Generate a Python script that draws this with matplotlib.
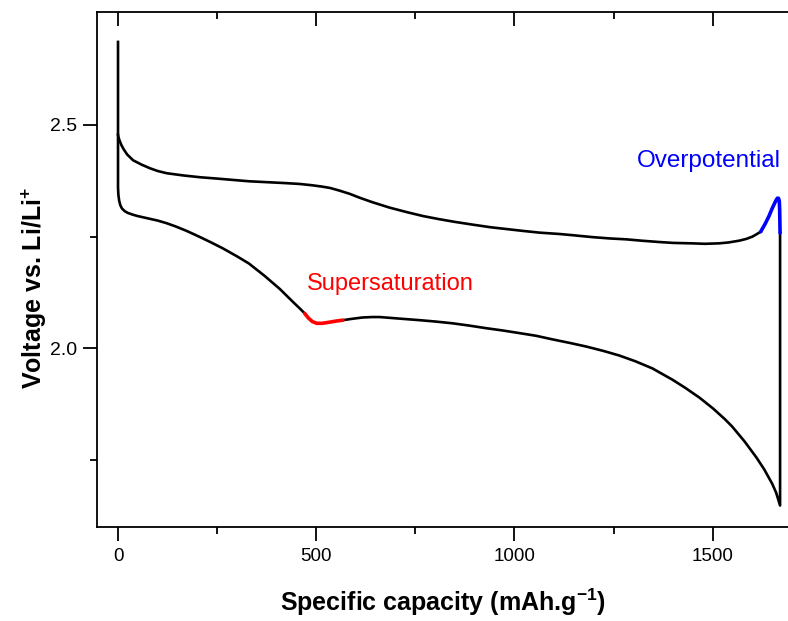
import matplotlib
matplotlib.use("Agg")
import matplotlib.pyplot as plt
from matplotlib.ticker import MultipleLocator, FixedLocator, FormatStrFormatter

# discharge branch (capacity mAh/g, voltage V)
dis_cap = [0, 0, 1, 3, 6, 10, 17, 25, 38, 50, 65, 80, 100, 123, 145, 170, 190,
           207, 235, 264, 300, 330, 370, 408, 440, 460, 471]
dis_v = [2.686, 2.36, 2.343, 2.330, 2.320, 2.313, 2.307, 2.303, 2.299, 2.296,
         2.293, 2.290, 2.286, 2.280, 2.273, 2.264, 2.256, 2.249, 2.237, 2.224,
         2.206, 2.190, 2.162, 2.133, 2.105, 2.088, 2.078]

# supersaturation dip (red)
sup_cap = [471, 480, 490, 501, 515, 530, 550, 567]
sup_v = [2.078, 2.068, 2.060, 2.056, 2.056, 2.058, 2.061, 2.063]

dis2_cap = [567, 590, 617, 640, 660, 703, 761, 800, 844, 885, 929, 970, 1013,
            1055, 1096, 1140, 1181, 1225, 1264, 1305, 1348, 1398, 1430, 1466,
            1500, 1530, 1549, 1580, 1610, 1630, 1650, 1660, 1670, 1670]
dis2_v = [2.063, 2.066, 2.069, 2.070, 2.070, 2.067, 2.063, 2.060, 2.056, 2.051,
          2.045, 2.040, 2.034, 2.028, 2.020, 2.012, 2.004, 1.994, 1.984, 1.971,
          1.955, 1.930, 1.912, 1.890, 1.866, 1.842, 1.825, 1.792, 1.756, 1.729,
          1.697, 1.677, 1.648, 2.258]

# overpotential peak (blue)
ovp_cap = [1670, 1669, 1668, 1666, 1663, 1659, 1650, 1642, 1632, 1621]
ovp_v = [2.258, 2.310, 2.330, 2.336, 2.336, 2.330, 2.313, 2.296, 2.278, 2.261]

# charge branch, right to left
chg_cap = [1621, 1610, 1600, 1585, 1567, 1540, 1516, 1480, 1448, 1400, 1365,
           1320, 1282, 1240, 1196, 1150, 1113, 1063, 1020, 980, 940, 894, 850,
           811, 770, 728, 685, 642, 610, 584, 559, 535, 515, 490, 458, 420,
           375, 330, 290, 250, 207, 165, 123, 100, 81, 60, 38, 23, 14, 8, 4,
           1, 0]
chg_v = [2.261, 2.255, 2.250, 2.245, 2.241, 2.237, 2.235, 2.234, 2.235, 2.236,
         2.238, 2.241, 2.244, 2.246, 2.249, 2.253, 2.256, 2.259, 2.263, 2.267,
         2.271, 2.277, 2.283, 2.289, 2.296, 2.305, 2.315, 2.327, 2.337, 2.346,
         2.353, 2.359, 2.362, 2.365, 2.368, 2.370, 2.372, 2.374, 2.377, 2.380,
         2.383, 2.387, 2.392, 2.397, 2.403, 2.411, 2.421, 2.434, 2.446, 2.456,
         2.465, 2.473, 2.478]

plt.rcParams['font.family'] = ['Liberation Sans', 'DejaVu Sans']
plt.rcParams['mathtext.fontset'] = 'custom'
plt.rcParams['mathtext.rm'] = 'Liberation Sans'
plt.rcParams['mathtext.bf'] = 'Liberation Sans:bold'

fig = plt.figure(figsize=(7.88, 6.21), dpi=100)
ax = fig.add_axes([0.1231, 0.1514, 0.8769, 0.8293])

lw = 1.9
for xs, ys in [(dis_cap, dis_v), (dis2_cap, dis2_v), (chg_cap, chg_v)]:
    ax.plot(xs, ys, color='black', lw=lw, solid_joinstyle='round')
ax.plot(sup_cap, sup_v, color='red', lw=2.6, solid_capstyle='round')
ax.plot(ovp_cap, ovp_v, color='blue', lw=2.6, solid_capstyle='round')

ax.text(476, 2.143, 'Supersaturation', color='red', fontsize=17,
        ha='left', va='center')
ax.text(1672, 2.42, 'Overpotential', color='blue', fontsize=17.5,
        ha='right', va='center')

xlim = (-53, 1690)
ax.set_xlim(xlim)
ax.set_ylim(1.6, 2.753)

ax.xaxis.set_major_locator(MultipleLocator(500))
ax.xaxis.set_minor_locator(MultipleLocator(250))
ax.yaxis.set_major_locator(FixedLocator([2.0, 2.5]))
ax.yaxis.set_minor_locator(FixedLocator([1.75, 2.25]))
ax.yaxis.set_major_formatter(FormatStrFormatter('%.1f'))

ax.spines['right'].set_visible(False)
ax.spines['top'].set_visible(False)
for s in ['left', 'bottom']:
    ax.spines[s].set_linewidth(1.3)

ax.tick_params(axis='x', which='both', direction='out', bottom=True, top=False,
               width=1.3, labelsize=13.5, pad=5)
ax.tick_params(axis='y', which='both', direction='out', left=True, right=False,
               width=1.3, labelsize=14, pad=4)
ax.tick_params(which='major', length=10)
ax.tick_params(which='minor', length=5)

# inward ticks along the top spine
ax2 = ax.twiny()
ax2.set_xlim(xlim)
ax2.xaxis.set_major_locator(MultipleLocator(500))
ax2.xaxis.set_minor_locator(MultipleLocator(250))
ax2.tick_params(which='both', direction='in', width=1.3, labeltop=False)
ax2.tick_params(which='major', length=10)
ax2.tick_params(which='minor', length=5)
for s in ['left', 'right', 'bottom']:
    ax2.spines[s].set_visible(False)
ax2.spines['top'].set_linewidth(1.3)

ax.set_xlabel('Specific capacity (mAh.g$^{\\mathbf{-1}}$)', fontsize=18,
              fontweight='bold', labelpad=16)
ax.set_ylabel('Voltage vs. Li/Li$^{\\mathbf{+}}$', fontsize=18,
              fontweight='bold')
ax.yaxis.set_label_coords(-0.070, 0.465)

fig.savefig('out.png', dpi=100)
